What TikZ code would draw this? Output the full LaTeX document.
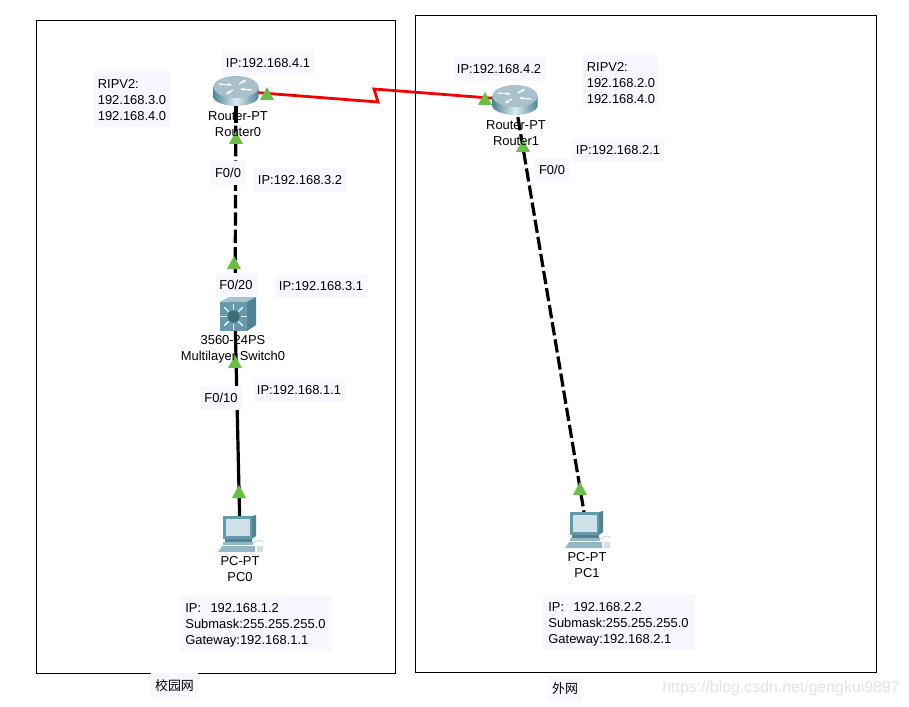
\documentclass[tikz,border=0pt]{standalone}
\usepackage{fontspec}
\setmainfont{Liberation Sans}
\newfontfamily\cjkfont{Noto Sans CJK SC}
\usetikzlibrary{arrows.meta}
\definecolor{labelBack}{HTML}{F7F8FF}
\definecolor{portGreen}{HTML}{6ABD45}
\definecolor{linkRed}{HTML}{F00000}
\definecolor{ciscoDark}{HTML}{4F8496}
\definecolor{ciscoMid}{HTML}{659AAC}
\definecolor{ciscoLight}{HTML}{DCECF0}
\definecolor{ciscoTop}{HTML}{A9C1CC}
\definecolor{ciscoScreen}{HTML}{CFE2EA}
\definecolor{markGrey}{HTML}{E4E4E4}
\newcommand{\labelfont}{\fontsize{9.7}{12}\selectfont}
\tikzset{
  iplabel/.style={fill=labelBack, inner sep=0pt, minimum height=18pt, text=black,
    font=\labelfont, align=left},
  devlabel/.style={inner sep=0pt, align=center, font=\labelfont},
  cable/.style={line width=2.4pt, black},
  cabledash/.style={cable, dash pattern=on 10pt off 3pt},
  routerIcon/.pic={
    \shade[left color=ciscoDark, right color=ciscoDark, middle color=ciscoLight]
      (-22.5,-4) -- (-22.5,6) .. controls (-22.5,11) and (-11,15) .. (0,15)
      .. controls (11,15) and (22.5,11) .. (22.5,6) -- (22.5,-4) -- cycle;
    \fill[ciscoTop] (0,-4) circle[x radius=22.5, y radius=11];
    \draw[white, line width=0.9pt, -{Stealth[length=3pt]}] (-17,-7) -- (-4,-6);
    \draw[white, line width=0.9pt, -{Stealth[length=3pt]}] (16,-1) -- (4,-2);
    \draw[white, line width=0.9pt, -{Stealth[length=3pt]}] (-3,-1) -- (-10,3);
    \draw[white, line width=0.9pt, -{Stealth[length=3pt]}] (3,-7) -- (10,-11);
  },
  switchIcon/.pic={
    \fill[ciscoTop] (-18,-12) -- (-9,-17) -- (18,-17) -- (9,-12) -- cycle;
    \fill[ciscoDark] (9,-12) -- (18,-17) -- (18,11) -- (9,17) -- cycle;
    \fill[ciscoMid] (-18,-12) rectangle (9,17);
    \foreach \a in {0,45,...,315} {
      \draw[white, line width=0.9pt] (-4.5,2.5) ++(\a:7) -- ++(\a:6);
    }
    \fill[ciscoDark!80!black] (-4.5,2.5) circle[radius=6];
  },
  pcIcon/.pic={
    \fill[ciscoDark] (12,-18) -- (16,-19) -- (16,2) -- (12,5) -- cycle;
    \fill[ciscoMid] (-17,-18) rectangle (12,5);
    \fill[ciscoScreen] (-14,-15) rectangle (10,2);
    \fill[ciscoDark] (-15,5) rectangle (12,8);
    \fill[ciscoMid!70!white] (-17,8) rectangle (13,11);
    \fill[ciscoMid!70!white] (-18,12) -- (15,12) -- (15,18) -- (-22,18) -- cycle;
    \draw[ciscoScreen, line width=1pt] (14,9) .. controls (17,5) and (21,6) .. (23,8);
    \fill[ciscoScreen] (17,12) rectangle (23,18);
  },
  portMark/.pic={
    \fill[portGreen] (-7,0) -- (7,0) -- (0,-13) -- cycle;
  },
}
\begin{document}
\begin{tikzpicture}[x=0.75pt, y=-0.75pt]
    \useasboundingbox[fill=white] (0,0) rectangle (909,706);

    % zones
    \draw[black, line width=0.75pt] (36,21) rectangle (395,673);
    \draw[black, line width=0.75pt] (415,16) rectangle (876,672);

    % appareils
    \coordinate (Router0) at (236,91);
    \coordinate (Router1) at (515,100);
    \coordinate (Switch0) at (235,314);
    \coordinate (PC0) at (240,534);
    \coordinate (PC1) at (587,530);
    \coordinate (kinkA) at (378,102);
    \coordinate (kinkB) at (374,89);

    % liaisons
    \draw[cabledash] (Router0) -- (Switch0);
    \draw[cable] (Router0) -- ++(0,32);
    \draw[cable] (Switch0) -- (PC0);
    \draw[cabledash] (Router1) -- (PC1);
    \draw[linkRed, line width=2.1pt] (Router0) -- (kinkA) -- (kinkB) -- (Router1);

    \pic at (Router0) {routerIcon};
    \pic at (Router1) {routerIcon};
    \pic at (238,314) {switchIcon};
    \pic at (PC0) {pcIcon};
    \pic at (PC1) {pcIcon};

    % triangles verts
    \foreach \x/\y in {267/100, 485/105, 236/144, 234/269, 235/368, 239/498, 523/152, 580/495} {
      \pic at (\x,\y) {portMark};
    }

    % noms
    \node[devlabel] (Router0Name) at (238,124) {Router-PT\\Router0};
    \node[devlabel] (Router1Name) at (516,133) {Router-PT\\Router1};
    \node[devlabel] (Switch0Name) at (233,349) {3560-24PS\\Multilayer Switch0};
    \node[devlabel] (PC0Name) at (240,569) {PC-PT\\PC0};
    \node[devlabel] (PC1Name) at (587,565) {PC-PT\\PC1};

    % adresses
    \foreach \n/\x/\y/\w/\t in {
      ipA/268/63/92/IP:192.168.4.1,
      ipB/499/69/92/IP:192.168.4.2,
      ipC/300/180/92/IP:192.168.3.2,
      ipD/321/286/92/IP:192.168.3.1,
      ipE/299/390/92/IP:192.168.1.1,
      ipF/618/150/92/IP:192.168.2.1,
      portA/228/173/34/F0\slash 0,
      portB/552/170/34/F0\slash 0,
      portC/236/285/41/F0\slash 20,
      portD/221/398/41/F0\slash 10} {
      \node[iplabel, minimum width=\w*0.75pt] (\n) at (\x,\y) {\t};
    }
    \node[iplabel, minimum width=57pt, minimum height=42pt] (ripA) at (132,99)
      {\rule{0pt}{9pt}RIPV2:\\192.168.3.0\\192.168.4.0};
    \node[iplabel, minimum width=57pt, minimum height=40pt] (ripB) at (621,81.5)
      {\rule{0pt}{9pt}RIPV2:\\192.168.2.0\\192.168.4.0};
    \node[iplabel, minimum width=114pt, minimum height=42pt] (hostA) at (255.5,623)
      {\rule{0pt}{11pt}IP:\hspace{7pt}192.168.1.2\\Submask:255.255.255.0\\Gateway:192.168.1.1};
    \node[iplabel, minimum width=114pt, minimum height=42pt] (hostB) at (618.5,622)
      {\rule{0pt}{11pt}IP:\hspace{7pt}192.168.2.2\\Submask:255.255.255.0\\Gateway:192.168.2.1};

    % legende
    \node[iplabel, minimum width=35pt, minimum height=19pt, font=\cjkfont\labelfont]
      (zoneA) at (174.5,686) {校园网};
    \node[iplabel, minimum width=26pt, minimum height=19pt, font=\cjkfont\labelfont]
      (zoneB) at (565,689) {外网};
    \node[text=markGrey, inner sep=0pt, font=\fontsize{11.9}{12}\selectfont] (mark) at (781,688)
      {https://blog.csdn.net/gengkui9897};
\end{tikzpicture}
\end{document}
